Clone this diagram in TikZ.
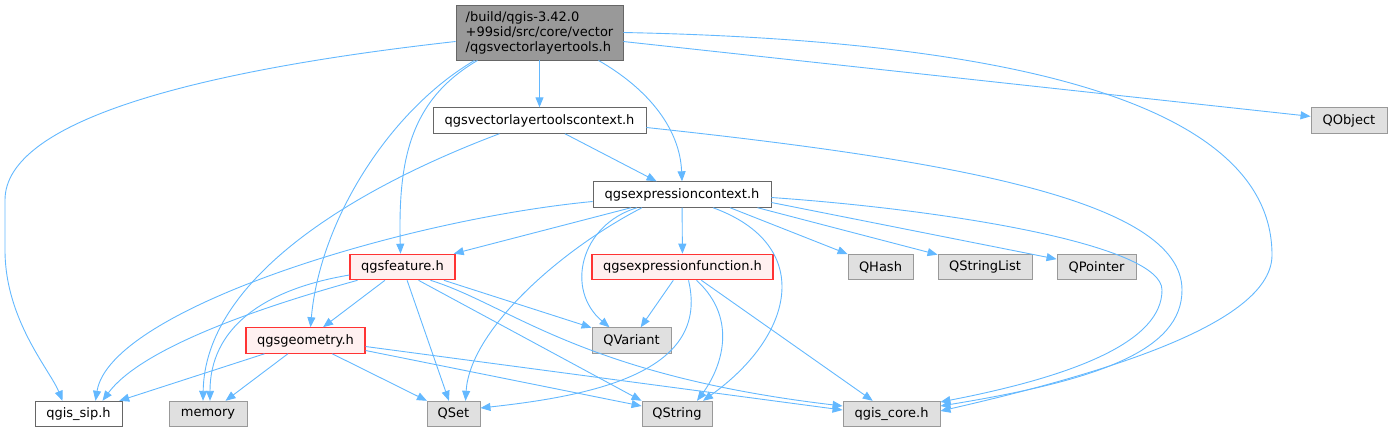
\documentclass[tikz,border=0pt]{standalone}
\usepackage{fontspec}
\setmainfont{DejaVu Sans}
\usetikzlibrary{arrows.meta}
\definecolor{incblue}{HTML}{63B8FF}
\definecolor{redfill}{HTML}{FFF0F0}
\definecolor{redline}{HTML}{FF3333}
\begin{document}
\begin{tikzpicture}[x=1pt,y=-1pt,font=\fontsize{13}{15}\selectfont,
  hnode/.style={draw=black!60,fill=white,text=black,line width=0.9pt,minimum height=25.5pt,inner sep=2pt},
  qnode/.style={hnode,draw=black!40,fill=black!12},
  rnode/.style={hnode,draw=redline,fill=redfill,line width=1.1pt},
  tnode/.style={hnode,fill=black!40,align=left},
  incl/.style={draw=incblue,line width=0.9pt,->,>={Triangle[length=10pt,width=8pt]}}]
  \useasboundingbox (0,0) rectangle (1392,432);
  % files
  \node[tnode,minimum width=167pt,minimum height=55pt] (top) at (539.5,32.5) {/build/qgis-3.42.0\\+99sid/src/core/vector\\/qgsvectorlayertools.h};
  \node[hnode,minimum width=213pt] (vltc) at (539.5,120.5) {qgsvectorlayertoolscontext.h};
  \node[qnode,minimum width=76pt] (qobj) at (1349,120.5) {QObject};
  \node[hnode,minimum width=178pt] (ectx) at (682,194.5) {qgsexpressioncontext.h};
  \node[rnode,minimum width=105pt] (feat) at (402.5,267) {qgsfeature.h};
  \node[rnode,minimum width=181pt] (efun) at (682.5,267) {qgsexpressionfunction.h};
  \node[qnode,minimum width=65pt] (qhash) at (880.5,267) {QHash};
  \node[qnode,minimum width=94pt] (qslist) at (985,267) {QStringList};
  \node[qnode,minimum width=79pt] (qptr) at (1096.5,267) {QPointer};
  \node[rnode,minimum width=119pt] (geom) at (305.5,340.5) {qgsgeometry.h};
  \node[qnode,minimum width=79pt] (qvar) at (631.5,340.5) {QVariant};
  \node[hnode,minimum width=87pt] (qsip) at (78.5,414) {qgis\_sip.h};
  \node[qnode,minimum width=78pt] (mem) at (208,414) {memory};
  \node[qnode,minimum width=53pt] (qset) at (453.5,414) {QSet};
  \node[qnode,minimum width=70pt] (qstr) at (677,414) {QString};
  \node[qnode,minimum width=97pt] (qcore) at (891.5,414) {qgis\_core.h};
  % includes of the top file
  \draw[incl] (top) -- (vltc);
  \draw[incl] (top) -- (qobj);
  \draw[incl] ([yshift=-9pt]top.west) .. controls (200,70) and (5,120) .. (5,200) -- (5,250) .. controls (5,320) and (50,370) .. ([xshift=-16pt]qsip.north);
  \draw[incl] ([xshift=-62pt]top.south) .. controls (410,100) and (398,160) .. ([xshift=-2pt]feat.north);
  \draw[incl] ([xshift=-65pt]top.south) .. controls (390,110) and (320,220) .. ([xshift=5pt]geom.north);
  \draw[incl] ([xshift=59pt]top.south) .. controls (650,90) and (680,130) .. (ectx.north);
  \draw[incl] (top.east) .. controls (1000,40) and (1272,100) .. (1272,255) .. controls (1272,320) and (1120,370) .. ([yshift=3pt]qcore.east);
  % qgsvectorlayertoolscontext.h
  \draw[incl] ([xshift=-40pt]vltc.south) .. controls (350,190) and (205,280) .. ([xshift=-5pt]mem.north);
  \draw[incl] (vltc) -- (ectx);
  \draw[incl] ([yshift=-7pt]vltc.east) .. controls (950,160) and (1182,200) .. (1182,290) .. controls (1182,350) and (1100,380) .. ([yshift=8pt]qcore.east);
  % qgsexpressioncontext.h
  \draw[incl] ([yshift=-7pt]ectx.west) .. controls (400,220) and (110,310) .. ([xshift=17pt]qsip.north);
  \draw[incl] (ectx) -- (feat);
  \draw[incl] ([xshift=-40pt]ectx.south) .. controls (560,250) and (470,330) .. ([xshift=12pt]qset.north);
  \draw[incl] ([xshift=-45pt]ectx.south) .. controls (580,225) and (565,290) .. ([xshift=-22pt]qvar.north);
  \draw[incl] (ectx) -- (efun);
  \draw[incl] ([xshift=31pt]ectx.south) .. controls (815,245) and (795,335) .. ([xshift=26pt]qstr.north);
  \draw[incl] ([xshift=48pt]ectx.south) -- (qhash);
  \draw[incl] ([xshift=-14pt]ectx.south east) -- (qslist);
  \draw[incl] ([yshift=-8pt]ectx.east) -- (qptr);
  \draw[incl] ([yshift=-3pt]ectx.east) .. controls (950,210) and (1162,245) .. (1162,290) .. controls (1162,340) and (1080,375) .. ([yshift=12pt]qcore.east);
  % qgsexpressionfunction.h
  \draw[incl] (efun) -- (qvar);
  \draw[incl] ([xshift=6pt]efun.south) .. controls (710,370) and (600,395) .. ([yshift=6pt]qset.east);
  \draw[incl] ([xshift=14pt]efun.south) .. controls (740,320) and (720,370) .. ([xshift=20pt]qstr.north);
  \draw[incl] (efun) -- (qcore);
  % qgsfeature.h
  \draw[incl] ([xshift=-45pt]feat.south) .. controls (250,310) and (140,350) .. ([xshift=24pt]qsip.north);
  \draw[incl] ([yshift=-8pt]feat.west) .. controls (260,290) and (210,330) .. ([xshift=2pt]mem.north);
  \draw[incl] (feat) -- (geom);
  \draw[incl] (feat) -- (qset);
  \draw[incl] ([xshift=16pt]feat.south) -- (qstr.north west);
  \draw[incl] ([xshift=28pt]feat.south) .. controls (510,305) and (580,375) .. ([yshift=8pt]qcore.west);
  \draw[incl] (feat) -- (qvar);
  % qgsgeometry.h
  \draw[incl] (geom) -- (qsip);
  \draw[incl] (geom) -- (mem);
  \draw[incl] (geom) -- (qset);
  \draw[incl] ([yshift=-10pt]geom.east) -- ([yshift=8pt]qstr.west);
  \draw[incl] ([yshift=-6pt]geom.east) -- ([yshift=4pt]qcore.west);
\end{tikzpicture}
\end{document}
